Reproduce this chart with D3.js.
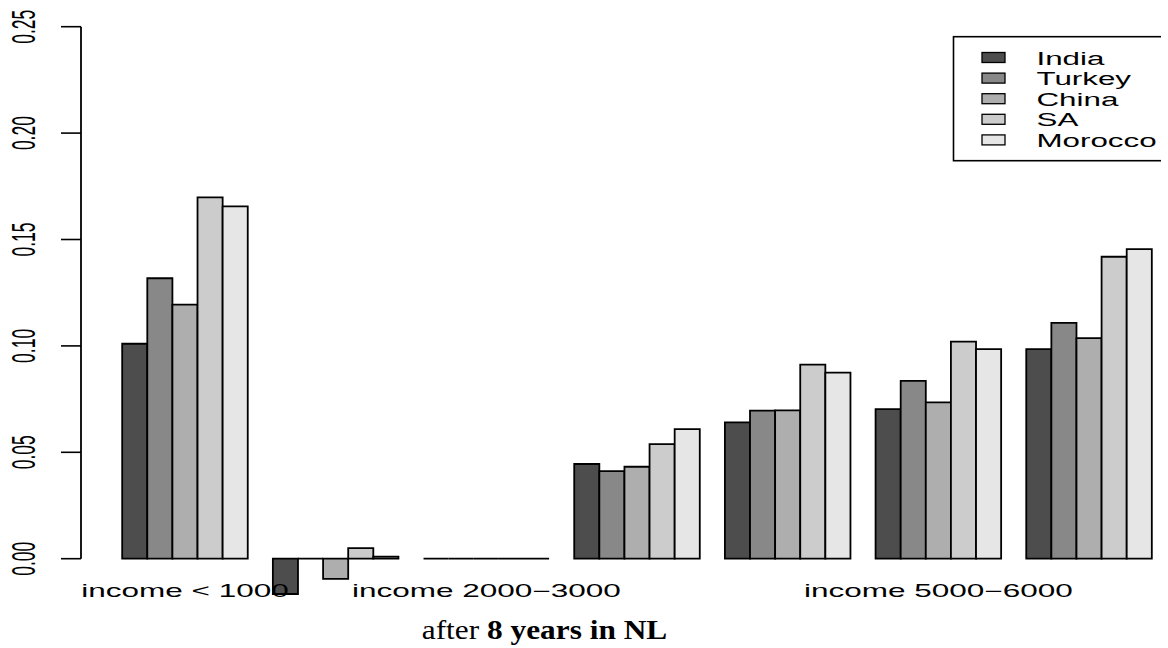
<!DOCTYPE html>
<html>
<head>
<meta charset="utf-8">
<script src="https://cdn.jsdelivr.net/npm/d3@7"></script>
<style>
  html, body { margin: 0; padding: 0; background: #fff; }
  svg { display: block; }
</style>
</head>
<body>
<svg id="chart" width="1168" height="648"></svg>
<script>
// Income groups (x categories) and which of their labels fit on the axis
const incomeGroups = [
  "income < 1000", "income 1000\u22122000", "income 2000\u22123000",
  "income 3000\u22124000", "income 4000\u22125000", "income 5000\u22126000",
  "income > 6000"
];
const shownLabels = ["income < 1000", "income 2000\u22123000", "income 5000\u22126000"];

// Countries (series) and their fill greys
const countries = ["India", "Turkey", "China", "SA", "Morocco"];
const countryColors = ["#4D4D4D", "#888888", "#AEAEAE", "#CCCCCC", "#E6E6E6"];

// Effect per income group, one array per country
const india   = [0.101, -0.0166, 0, 0.0445, 0.0641, 0.0703, 0.0985];
const turkey  = [0.1318, 0, 0, 0.0412, 0.0696, 0.0836, 0.1108];
const china   = [0.1194, -0.0095, 0, 0.0432, 0.0697, 0.0735, 0.1037];
const sa      = [0.1698, 0.005, 0, 0.0538, 0.0912, 0.102, 0.1419];
const morocco = [0.1656, 0.001, 0, 0.0609, 0.0874, 0.0985, 0.1455];

const yTicks = [0, 0.05, 0.10, 0.15, 0.20, 0.25];

const seriesValues = [india, turkey, china, sa, morocco];

const svg = d3.select("#chart");
svg.append("defs").append("clipPath").attr("id", "clipAll")
  .append("rect").attr("x", 0).attr("y", 0).attr("width", 1161).attr("height", 648);
const root = svg.append("g").attr("clip-path", "url(#clipAll)");

// Bars are laid out barplot-style: width 1, one empty unit before each group
const nGroups = incomeGroups.length, nSeries = countries.length;
const firstLeft = 1, lastRight = nGroups * (nSeries + 1);
const pad = 0.04 * (lastRight - firstLeft);
const x = d3.scaleLinear()
  .domain([firstLeft - pad, lastRight + pad])
  .range([81, 1193]);
const y = d3.scaleLinear().domain([0, 0.25]).range([558.7, 26.7]);

const STRETCH = 1.86;   // horizontal scale applied to the sans-serif labels
const SANS = "Liberation Sans, Arial, sans-serif";

// Bars
const bars = [];
incomeGroups.forEach((g, gi) => {
  countries.forEach((c, si) => {
    const left = firstLeft + gi * (nSeries + 1) + si;
    bars.push({ group: g, country: c, si, left, value: seriesValues[si][gi] });
  });
});

root.append("g").selectAll("path")
  .data(bars)
  .join("path")
  .attr("d", d => {
    const x0 = x(d.left), x1 = x(d.left + 1);
    const y0 = y(0), y1 = y(d.value);
    return `M${x0},${y0}H${x1}V${y1}H${x0}Z`;
  })
  .attr("fill", d => countryColors[d.si])
  .attr("stroke", "#000")
  .attr("stroke-width", 1.8)
  .attr("stroke-linejoin", "miter");

// Y axis
const yAxis = root.append("g").attr("transform", "translate(81,0)");
yAxis.append("line")
  .attr("x1", 0).attr("x2", 0)
  .attr("y1", y(0)).attr("y2", y(0.25))
  .attr("stroke", "#000").attr("stroke-width", 1.8);
yAxis.selectAll("line.tick")
  .data(yTicks)
  .join("line")
  .attr("class", "tick")
  .attr("x1", -20).attr("x2", 0)
  .attr("y1", d => y(d)).attr("y2", d => y(d))
  .attr("stroke", "#000").attr("stroke-width", 1.6);
root.append("g").selectAll("text")
  .data(yTicks)
  .join("text")
  .attr("transform", d => `translate(35,${y(d)}) scale(${STRETCH},1) rotate(-90)`)
  .attr("text-anchor", "middle")
  .attr("font-family", SANS)
  .attr("font-size", 17.5)
  .attr("fill", "#000")
  .text(d => d3.format(".2f")(d));

// X category labels under the group centres
root.append("g").selectAll("text")
  .data(incomeGroups.map((g, gi) => ({ g, gi })).filter(d => shownLabels.includes(d.g)))
  .join("text")
  .attr("transform", d => {
    const cx = x(firstLeft + d.gi * (nSeries + 1) + nSeries / 2);
    return `translate(${cx},597) scale(1.8,1)`;
  })
  .attr("text-anchor", "middle")
  .attr("font-family", SANS)
  .attr("font-size", 17.5)
  .attr("fill", "#000")
  .text(d => d.g);

// Legend
const legend = root.append("g");
legend.append("rect")
  .attr("x", 953.5).attr("y", 36.7)
  .attr("width", 240).attr("height", 124)
  .attr("fill", "#fff").attr("stroke", "#000").attr("stroke-width", 1.6);
const rows = legend.selectAll("g.row")
  .data(countries)
  .join("g")
  .attr("class", "row")
  .attr("transform", (d, i) => `translate(0,${58 + i * 20.6})`);
rows.append("rect")
  .attr("x", 982).attr("y", -5.5)
  .attr("width", 23).attr("height", 10)
  .attr("fill", (d, i) => countryColors[i])
  .attr("stroke", "#000").attr("stroke-width", 1.3);
rows.append("text")
  .attr("transform", `translate(1036.5,6.5) scale(1.74,1)`)
  .attr("font-family", SANS)
  .attr("font-size", 18)
  .attr("fill", "#000")
  .text(d => d);

// Caption below the plot
const caption = root.append("text")
  .attr("transform", "translate(544.5,639) scale(1.12,1)")
  .attr("text-anchor", "middle")
  .attr("font-family", "Liberation Serif, Times New Roman, serif")
  .attr("font-size", 28)
  .attr("fill", "#000");
caption.append("tspan").text("after ");
caption.append("tspan").attr("font-weight", "bold").text("8 years in NL");
</script>
</body>
</html>
